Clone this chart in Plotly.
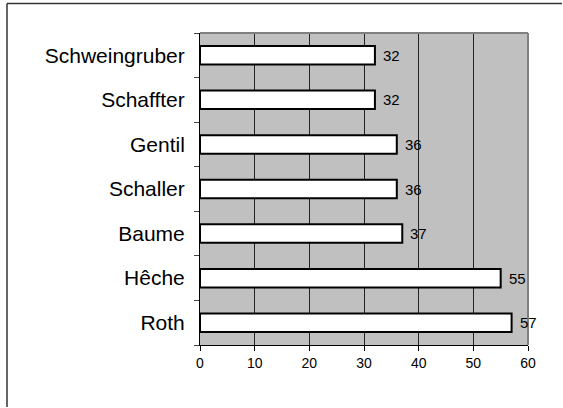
import plotly.graph_objects as go

names = ["Schweingruber", "Schaffter", "Gentil", "Schaller", "Baume", "Hêche", "Roth"]
values = [32, 32, 36, 36, 37, 55, 57]
x_ticks = [0, 10, 20, 30, 40, 50, 60]

W, H = 563, 408
L, R, T, B = 200, 35, 33, 63
pw, ph = W - L - R, H - T - B

def px_to_paper_x(px):
    return (px - L) / pw

def px_to_paper_y(py):
    return (H - B - py) / ph

FONT = "Arial, Liberation Sans, sans-serif"

fig = go.Figure()
fig.add_trace(go.Bar(
    x=values, y=names, orientation="h",
    marker=dict(color="white", line=dict(color="black", width=2)),
    width=0.415,
    hoverinfo="skip",
))

for n, v in zip(names, values):
    fig.add_annotation(x=v, y=n, text=str(v), showarrow=False,
                       xanchor="left", xshift=6,
                       font=dict(family=FONT, size=15, color="black"))

fig.update_layout(
    width=W, height=H,
    margin=dict(l=L, r=R, t=T, b=B, pad=0),
    paper_bgcolor="white",
    plot_bgcolor="#c0c0c0",
    showlegend=False,
    font=dict(family=FONT, color="black"),
    xaxis=dict(
        range=[0, 60], tickvals=x_ticks, ticktext=[str(t) for t in x_ticks],
        showgrid=True, gridcolor="#222222", gridwidth=1,
        showline=True, linecolor="black", linewidth=1,
        ticks="outside", ticklen=5, tickcolor="black",
        tickfont=dict(size=14, family=FONT),
        zeroline=False, fixedrange=True,
    ),
    yaxis=dict(
        categoryorder="array", categoryarray=names[::-1],
        showgrid=False,
        showline=True, linecolor="black", linewidth=1,
        ticks="outside", ticklen=5, tickcolor="#444444",
        tickson="boundaries",
        tickfont=dict(size=21, family=FONT),
        ticklabelstandoff=10,
        zeroline=False, fixedrange=True,
    ),
    shapes=[
        dict(type="line", xref="paper", yref="paper", x0=0, x1=1, y0=1, y1=1,
             line=dict(color="#808080", width=2)),
        dict(type="line", xref="paper", yref="paper", x0=1, x1=1, y0=0, y1=1,
             line=dict(color="#808080", width=2)),
        dict(type="line", xref="paper", yref="paper",
             x0=px_to_paper_x(7), x1=px_to_paper_x(W - 1),
             y0=px_to_paper_y(3.5), y1=px_to_paper_y(3.5),
             line=dict(color="#333333", width=1.5)),
        dict(type="line", xref="paper", yref="paper",
             x0=px_to_paper_x(7), x1=px_to_paper_x(7),
             y0=px_to_paper_y(3.5), y1=px_to_paper_y(H - 1),
             line=dict(color="#333333", width=1.5)),
    ],
)

fig.write_html(
    "out.html",
    config={"displayModeBar": False, "staticPlot": True},
    post_script=(
        "var s=document.createElement('style');"
        "s.textContent='html,body{margin:0;padding:0;overflow:hidden;scrollbar-width:none;}"
        "::-webkit-scrollbar{display:none;width:0;height:0;}';"
        "document.head.appendChild(s);"
        "document.documentElement.style.overflow='hidden';"
        "document.body.style.margin='0';"
        "document.body.style.overflow='hidden';"
    ),
)
